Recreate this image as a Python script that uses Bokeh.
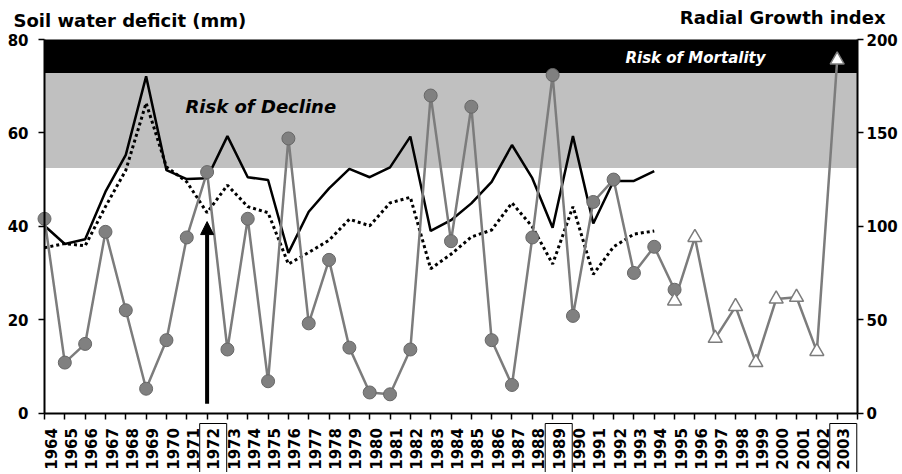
import math
from bokeh.plotting import figure
from bokeh.models import (Range1d, LinearAxis, SingleIntervalTicker, FixedTicker,
                          BoxAnnotation, Label, Arrow, NormalHead)
from bokeh.embed import file_html
from bokeh.resources import INLINE

# ---------------- data ----------------
AXIS_YEARS = list(range(1964, 2004))          # x tick labels 1964..2003
BOXED_YEARS = [1972, 1989, 2003]

SWD_YEARS = list(range(1964, 1995))
SWD_SOLID = [40.1, 36.2, 37.2, 47.4, 55.3, 72.1, 52.0, 50.1, 50.3, 59.3, 50.5,
             49.9, 34.3, 43.1, 48.1, 52.3, 50.5, 52.6, 59.2, 39.0, 41.3, 44.9,
             49.5, 57.4, 50.3, 39.7, 59.3, 40.6, 49.7, 49.7, 51.8]
SWD_DOTTED = [35.4, 36.3, 35.8, 44.2, 52.0, 66.4, 52.7, 49.5, 42.9, 48.8, 44.2,
              42.9, 31.9, 34.4, 37.0, 41.5, 40.1, 45.0, 46.2, 30.9, 34.0, 37.7,
              39.2, 45.0, 39.9, 31.9, 44.2, 29.7, 35.6, 38.3, 39.0]

RGI_YEARS = list(range(1964, 1996))
RGI = [104, 27, 37, 97, 55, 13, 39, 94, 129, 34, 104, 17, 147, 48, 82, 35, 11,
       10, 34, 170, 92, 164, 39, 15, 94, 181, 52, 113, 125, 75, 89, 66]

PRED_YEARS = list(range(1995, 2004))
RGI_PRED = [60, 94, 40, 57, 27, 61, 62, 33, 189]

SWD_MAX = 80
RGI_MAX = 200
DECLINE_LOW = 52.5
MORTALITY_LOW = 72.8
ARROW_YEAR = 1972
ARROW_FROM = 2.0
ARROW_TO = 41.0

# ---------------- layout geometry (pixels) ----------------
FONT = "DejaVu Sans"
W, H = 900, 472
FX0, FX1 = 44, 857          # x of first / last year tick
FY0, FY1 = 412.5, 39        # y of 0 / 80 on the left axis
X_FIRST, X_LAST = AXIS_YEARS[0], AXIS_YEARS[-1] + 1
PXY = (FX1 - FX0) / (X_LAST - X_FIRST)
PXV = (FY0 - FY1) / SWD_MAX
LABEL_SHIFT = 0.3           # year labels sit a little right of their ticks


def sx(px):
    return X_FIRST + (px - FX0) / PXY


def sy(py):
    return (FY0 - py) / PXV


RATIO = RGI_MAX / SWD_MAX

p = figure(width=W, height=H, x_range=Range1d(sx(0), sx(W)), y_range=Range1d(sy(H), sy(0)),
           output_backend="svg", toolbar_location=None, x_axis_location=None,
           min_border_left=0, min_border_right=0, min_border_top=0, min_border_bottom=0)
p.extra_y_ranges = {"rgi": Range1d(sy(H) * RATIO, sy(0) * RATIO)}
p.extra_x_ranges = {"lbl": Range1d(sx(0) - LABEL_SHIFT, sx(W) - LABEL_SHIFT)}
p.outline_line_color = None
p.xgrid.visible = False
p.ygrid.visible = False

# bands
p.add_layout(BoxAnnotation(left=X_FIRST, right=X_LAST, bottom=DECLINE_LOW, top=MORTALITY_LOW,
                           fill_color="#c0c0c0", fill_alpha=1, line_color=None, level="underlay"))
p.add_layout(BoxAnnotation(left=X_FIRST, right=X_LAST, bottom=MORTALITY_LOW, top=SWD_MAX,
                           fill_color="black", fill_alpha=1, line_color=None, level="underlay"))

# soil water deficit lines
p.line(SWD_YEARS, SWD_SOLID, line_color="black", line_width=2.5)
p.line(SWD_YEARS, SWD_DOTTED, line_color="black", line_width=3, line_dash="3 3")

# radial growth index
p.line(RGI_YEARS, RGI, line_color="#7c7c7c", line_width=2.5, y_range_name="rgi")
p.line(PRED_YEARS, RGI_PRED, line_color="#7c7c7c", line_width=2.5, y_range_name="rgi")
p.scatter(RGI_YEARS, RGI, marker="circle", size=13, fill_color="#808080",
          line_color="#676767", line_width=1, y_range_name="rgi")
p.scatter(PRED_YEARS, RGI_PRED, marker="triangle", size=14, fill_color="white",
          line_color="#7c7c7c", line_width=1.5, y_range_name="rgi")

# arrow
p.add_layout(Arrow(end=NormalHead(size=13, fill_color="black", line_color="black"),
                   x_start=ARROW_YEAR, y_start=ARROW_FROM, x_end=ARROW_YEAR, y_end=ARROW_TO,
                   line_width=4, line_color="black"))

# texts
p.add_layout(Label(x=sx(185), y=sy(106), text="Risk of Decline", text_font=FONT,
                   text_font_size="18px", text_font_style="bold italic",
                   text_baseline="middle", text_align="left", text_color="black"))
p.add_layout(Label(x=sx(695), y=sy(57), text="Risk of Mortality", text_font=FONT,
                   text_font_size="15px", text_font_style="bold italic",
                   text_baseline="middle", text_align="center", text_color="white"))
p.add_layout(Label(x=sx(13), y=sy(20), text="Soil water deficit (mm)", text_font=FONT,
                   text_font_size="18px", text_font_style="bold", text_color="black",
                   text_baseline="middle", text_align="left"))
p.add_layout(Label(x=sx(885), y=sy(17), text="Radial Growth index", text_font=FONT,
                   text_font_size="18px", text_font_style="bold", text_color="black",
                   text_baseline="middle", text_align="right"))


# axes
def style_axis(ax):
    ax.axis_line_color = "black"
    ax.axis_line_width = 2
    ax.major_tick_line_color = "black"
    ax.major_tick_line_width = 1.5
    ax.major_tick_out = 6
    ax.major_tick_in = 0
    ax.minor_tick_line_color = None
    ax.major_label_text_font = FONT
    ax.major_label_text_font_style = "bold"
    ax.major_label_text_color = "black"


# year axis: labels are major ticks (no tick mark), tick marks are minor ticks at the years
xa = LinearAxis(x_range_name="lbl",
                ticker=FixedTicker(ticks=AXIS_YEARS,
                                   minor_ticks=[y - LABEL_SHIFT for y in AXIS_YEARS + [X_LAST]]))
style_axis(xa)
xa.major_tick_line_color = None
xa.minor_tick_line_color = "black"
xa.minor_tick_line_width = 1.5
xa.minor_tick_out = 6
xa.minor_tick_in = 0
xa.bounds = (X_FIRST - LABEL_SHIFT, X_LAST - LABEL_SHIFT)
xa.fixed_location = 0
xa.major_label_orientation = math.pi / 2
xa.major_label_text_font_size = "15px"
xa.major_label_standoff = 9
p.add_layout(xa, "below")

ya = p.yaxis[0]
style_axis(ya)
ya.ticker = SingleIntervalTicker(interval=20, num_minor_ticks=0)
ya.bounds = (0, SWD_MAX)
ya.fixed_location = X_FIRST
ya.major_label_text_font_size = "15px"
ya.major_label_standoff = 10

ra = LinearAxis(y_range_name="rgi", ticker=SingleIntervalTicker(interval=50, num_minor_ticks=0))
style_axis(ra)
ra.bounds = (0, RGI_MAX)
ra.fixed_location = X_LAST
ra.major_label_text_font_size = "15px"
ra.major_label_standoff = 3
p.add_layout(ra, "right")

# boxes round the highlighted year labels
half = 13.5 / PXY
for yr in BOXED_YEARS:
    p.add_layout(BoxAnnotation(left=yr + LABEL_SHIFT - half, right=yr + LABEL_SHIFT + half,
                               top=sy(423), bottom=sy(H + 10), fill_alpha=0,
                               line_color="black", line_alpha=1, line_width=1))

open("out.html", "w").write(file_html(p, INLINE))
